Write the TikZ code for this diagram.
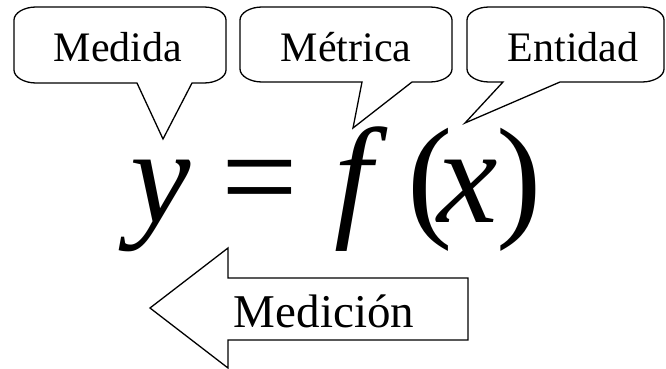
\documentclass[tikz,border=0pt]{standalone}
\usepackage{fontspec}
\setmainfont{Liberation Serif}[ItalicFont={Liberation Serif Italic}]
\newfontfamily\eqfont{Liberation Serif Italic}
\begin{document}
\begin{tikzpicture}[x=1pt,y=-1pt,
  shapeline/.style={draw=black,line width=1.3pt,fill=white,line join=miter},
  calltext/.style={font=\fontsize{42}{42}\selectfont,anchor=base,inner sep=0pt},
  arrowtext/.style={font=\fontsize{47}{47}\selectfont,anchor=base,inner sep=0pt},
  eqtext/.style={font=\fontsize{136}{136}\selectfont,anchor=base west,inner sep=0pt}]
\useasboundingbox (0,0) rectangle (666,369);
% Medida callout
\draw[shapeline] (36,7) -- (204,7) .. controls (216,7) and (226,13) .. (226,20)
  -- (226,70) .. controls (226,77) and (216,83) .. (204,83)
  -- (192,83) -- (163,139) -- (137,83)
  -- (36,83) .. controls (24,83) and (14,77) .. (14,70)
  -- (14,20) .. controls (14,13) and (24,7) .. (36,7) -- cycle;
\node[calltext] (medida) at (118,62) {Medida};
% Metrica callout
\draw[shapeline] (262,7) -- (430,7) .. controls (442,7) and (452,13) .. (452,20)
  -- (452,69) .. controls (452,76) and (442,82) .. (430,82)
  -- (412,82) -- (353,128) -- (362,82)
  -- (262,82) .. controls (250,82) and (240,76) .. (240,69)
  -- (240,20) .. controls (240,13) and (250,7) .. (262,7) -- cycle;
\node[calltext] (metrica) at (346,62) {Métrica};
% Entidad callout
\draw[shapeline] (489,7) -- (642,7) .. controls (654,7) and (664,13) .. (664,20)
  -- (664,69) .. controls (664,76) and (654,82) .. (642,82)
  -- (560,82) -- (465,123) -- (503,82)
  -- (489,82) .. controls (477,82) and (467,76) .. (467,69)
  -- (467,20) .. controls (467,13) and (477,7) .. (489,7) -- cycle;
\node[calltext] (entidad) at (573,62) {Entidad};
% equation
\node[eqtext] (eq) at (130.5,222) {{\eqfont y}\hspace{30pt}=\hspace{37pt}{\eqfont f}\hspace{35pt}(\hspace{-15pt}{\eqfont x}\hspace{-2pt})};
% Medicion arrow
\draw[shapeline] (150,308) -- (228,248) -- (228,278) -- (468,278) -- (468,340)
  -- (228,340) -- (228,368) -- cycle;
\node[arrowtext] (medicion) at (324,327) {Medición};
\end{tikzpicture}
\end{document}
